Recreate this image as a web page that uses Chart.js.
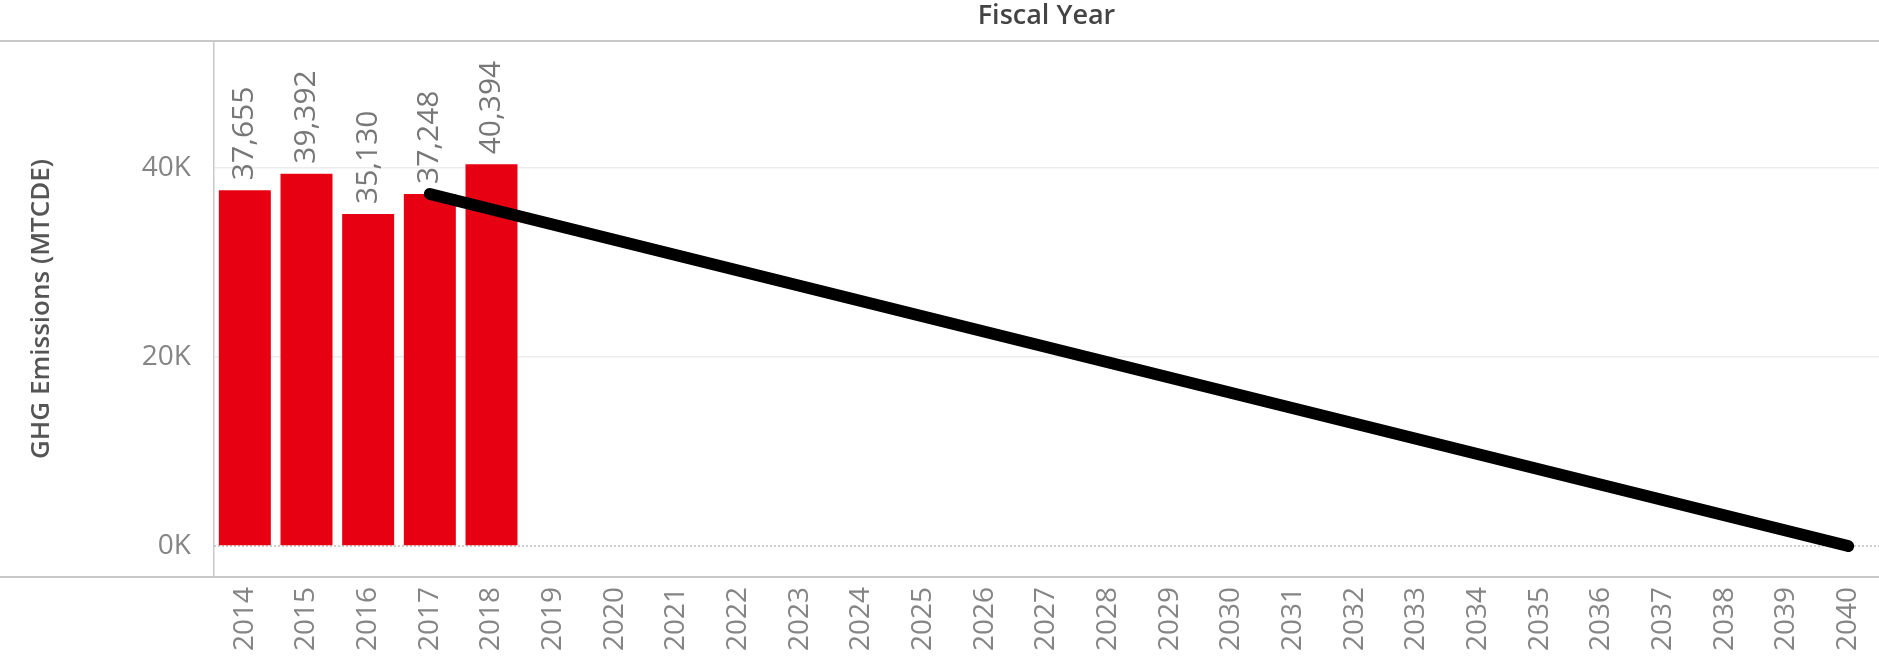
<!DOCTYPE html>
<html>
<head>
<meta charset="utf-8">
<script src="https://cdn.jsdelivr.net/npm/chart.js@4.4.1/dist/chart.umd.min.js"></script>
<style>
  html, body { margin: 0; padding: 0; background: #ffffff; }
  #wrap { width: 1879px; height: 660px; position: relative; }
</style>
</head>
<body>
<div id="wrap"><canvas id="c"></canvas></div>
<script>
// ---- data ----
const years = ['2014','2015','2016','2017','2018','2019','2020','2021','2022','2023','2024','2025','2026','2027','2028','2029','2030','2031','2032','2033','2034','2035','2036','2037','2038','2039','2040'];
const emissions = [37655, 39392, 35130, 37248, 40394, null, null, null, null, null, null, null, null, null, null, null, null, null, null, null, null, null, null, null, null, null, null];
const targetPath = [null, null, null, 37248, null, null, null, null, null, null, null, null, null, null, null, null, null, null, null, null, null, null, null, null, null, null, 0];
const yTickValues = [0, 20000, 40000];
const yTitle = 'GHG Emissions (MTCDE)';
const xTitle = 'Fiscal Year';

const FONT = "'Open Sans', 'DejaVu Sans', sans-serif";

const decorPlugin = {
  id: 'decor',
  beforeDatasetsDraw(chart) {
    const { ctx, chartArea, scales } = chart;
    const y0 = scales.y.getPixelForValue(0);
    ctx.save();
    ctx.strokeStyle = '#bdbdbd';
    ctx.lineWidth = 1.5;
    ctx.setLineDash([2, 2]);
    ctx.beginPath();
    ctx.moveTo(chartArea.left, y0);
    ctx.lineTo(chartArea.right, y0);
    ctx.stroke();
    ctx.restore();
  },
  afterDraw(chart) {
    const { ctx, chartArea, width } = chart;
    ctx.save();
    ctx.strokeStyle = '#c9c9c9';
    ctx.lineWidth = 2;
    ctx.beginPath();
    ctx.moveTo(0, chartArea.top);
    ctx.lineTo(width, chartArea.top);
    ctx.moveTo(0, chartArea.bottom);
    ctx.lineTo(width, chartArea.bottom);
    ctx.stroke();
    ctx.restore();
  }
};

const barLabelPlugin = {
  id: 'barLabels',
  afterDatasetsDraw(chart) {
    const { ctx } = chart;
    const meta = chart.getDatasetMeta(1);
    ctx.save();
    ctx.fillStyle = '#777777';
    ctx.font = '30px ' + FONT;
    ctx.textAlign = 'left';
    ctx.textBaseline = 'middle';
    meta.data.forEach((el, i) => {
      const v = emissions[i];
      if (v === null || v === undefined) return;
      ctx.save();
      ctx.translate(el.x, el.y - 10);
      ctx.rotate(-Math.PI / 2);
      ctx.fillText(v.toLocaleString('en-US'), 0, 0);
      ctx.restore();
    });
    ctx.restore();
  }
};

new Chart(document.getElementById('c'), {
  data: {
    labels: years,
    datasets: [
      {
        type: 'line',
        label: 'Target',
        data: targetPath,
        spanGaps: true,
        borderColor: '#000000',
        borderWidth: 12,
        borderCapStyle: 'round',
        pointRadius: 0,
        fill: false,
        order: 0,
        xAxisID: 'x',
        yAxisID: 'y'
      },
      {
        type: 'bar',
        label: 'GHG Emissions',
        data: emissions,
        backgroundColor: '#e60012',
        barPercentage: 0.843,
        categoryPercentage: 1.0,
        order: 1,
        xAxisID: 'x',
        yAxisID: 'y'
      }
    ]
  },
  options: {
    responsive: true,
    maintainAspectRatio: false,
    animation: false,
    layout: { padding: 0 },
    plugins: {
      legend: { display: false },
      tooltip: { enabled: false },
      title: { display: false }
    },
    scales: {
      x: {
        type: 'category',
        position: 'bottom',
        offset: true,
        grid: { display: false, drawTicks: false },
        border: { display: false },
        ticks: {
          autoSkip: false,
          minRotation: 90,
          maxRotation: 90,
          padding: 10,
          color: '#858585',
          font: { family: FONT, size: 28 }
        },
        afterFit(s) { s.height = 83; s.paddingLeft = 0; s.paddingRight = 0; }
      },
      xTop: {
        type: 'category',
        position: 'top',
        offset: true,
        grid: { display: false, drawTicks: false },
        border: { display: false },
        ticks: { display: false },
        title: {
          display: true,
          text: xTitle,
          color: '#444444',
          font: { family: FONT, size: 27, weight: '600' },
          padding: { top: 0, bottom: 0 }
        },
        afterFit(s) { s.height = 41; s.paddingLeft = 0; s.paddingRight = 0; }
      },
      y: {
        position: 'left',
        min: -3280,
        max: 53440,
        afterBuildTicks(s) { s.ticks = yTickValues.map(v => ({ value: v })); },
        grid: {
          drawTicks: false,
          color: (c) => (c.tick && c.tick.value === 0) ? 'rgba(0,0,0,0)' : '#ececec',
          lineWidth: 1.5
        },
        border: { display: true, color: '#c9c9c9', width: 1.5 },
        ticks: {
          padding: 23,
          color: '#858585',
          font: { family: FONT, size: 28 },
          callback: (v) => (v / 1000) + 'K'
        },
        title: {
          display: true,
          text: yTitle,
          color: '#555555',
          font: { family: FONT, size: 26, weight: '600' },
          padding: { top: 26, bottom: 0 }
        },
        afterFit(s) { s.width = 214; s.paddingTop = 0; s.paddingBottom = 0; }
      }
    }
  },
  plugins: [decorPlugin, barLabelPlugin]
});
</script>
</body>
</html>
